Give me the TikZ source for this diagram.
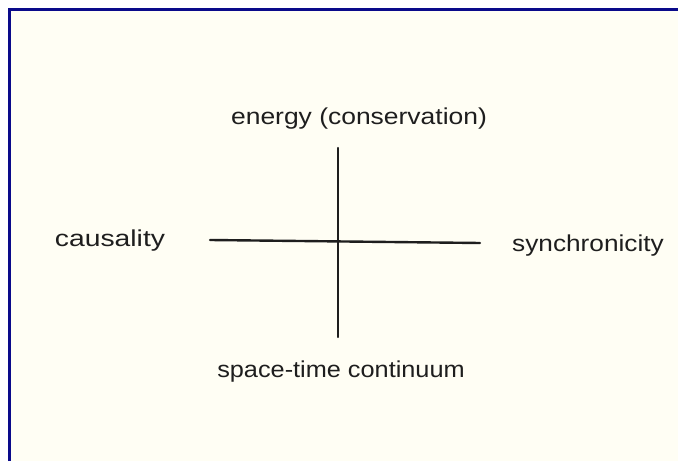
\documentclass[tikz,border=0pt]{standalone}
\usepackage{fontspec}
\setmainfont{Liberation Sans}
\definecolor{paper}{HTML}{FFFEF4}
\definecolor{frame}{HTML}{0A0A8A}
\definecolor{ink}{HTML}{1E1E1E}
\begin{document}
\begin{tikzpicture}[x=1pt,y=1pt,
  lbl/.style={font=\fontsize{23}{26}\selectfont, text=ink, inner sep=0pt},
  axis/.style={draw=ink, line width=2.4pt, line cap=round}]
\fill[white] (0,0) rectangle (678,461);
\useasboundingbox (0,0) rectangle (678,461);
\fill[paper] (9,0) rectangle (678,452);
\draw[frame, line width=2.4pt] (9.5,0) -- (9.5,451.5) -- (678,451.5);
% axes
\coordinate (hl) at (210,221);
\coordinate (hr) at (480,218);
\coordinate (vt) at (338,313);
\coordinate (vb) at (338,124);
\draw[axis] (hl) -- (hr);
\draw[axis] (vt) -- (vb);
% labels
\node[lbl, xscale=1.15] (top) at (359,342) {energy (conservation)};
\node[lbl, xscale=1.23] (left) at (110,220) {causality};
\node[lbl, xscale=1.14] (right) at (588,215) {synchronicity};
\node[lbl, xscale=1.10] (bottom) at (341,89) {space-time continuum};
\end{tikzpicture}
\end{document}
